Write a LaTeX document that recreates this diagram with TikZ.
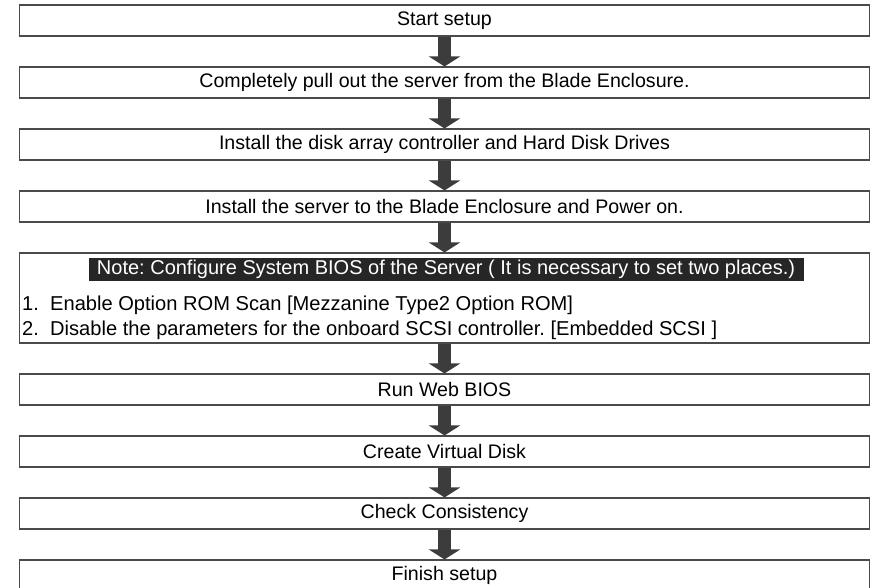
\documentclass[tikz,border=0pt]{standalone}
\usepackage{fontspec}
\setmainfont{Liberation Sans}
\usetikzlibrary{arrows.meta}
\frenchspacing
\definecolor{arrowgray}{HTML}{3C3C3C}
\definecolor{boxline}{HTML}{4A4A4A}
\tikzset{
  stepbox/.style={draw=boxline, line width=1.1pt, minimum width=850pt, minimum height=31pt,
    inner sep=0pt, font=\fontsize{19.6}{23}\selectfont\frenchspacing, text=black},
  bigarrow/.style={draw=arrowgray, line width=13pt,
    -{Triangle[width=31pt,length=10pt]}, shorten <=0.6pt},
  itemtext/.style={anchor=base west, inner sep=0pt, font=\fontsize{20.1}{23}\selectfont\frenchspacing},
}
\begin{document}
\begin{tikzpicture}[x=1pt,y=-1pt]
\useasboundingbox (0,0) rectangle (872,587);
\clip (0,0) rectangle (872,587);
\node[stepbox] (s1) at (444.5,20.5) {Start setup};
\node[stepbox] (s2) at (444.5,82.5) {Completely pull out the server from the Blade Enclosure.};
\node[stepbox] (s3) at (444.5,144.5) {Install the disk array controller and Hard Disk Drives};
\node[stepbox] (s4) at (444.5,206.5) {Install the server to the Blade Enclosure and Power on.};
\node[stepbox, minimum height=90pt] (note) at (444.5,298) {};
\node[fill=black!85, text=white, minimum width=715pt, minimum height=23pt, inner sep=0pt,
  font=\fontsize{20}{23}\selectfont\frenchspacing] (hdr) at (446,269.5)
  {Note: Configure System BIOS of the Server ( It is necessary to set two places.)};
\node[itemtext] (n1) at (22,310) {1.};
\node[itemtext] (t1) at (50,310) {Enable Option ROM Scan [Mezzanine Type2 Option ROM]};
\node[itemtext] (n2) at (22,335) {2.};
\node[itemtext] (t2) at (50,335) {Disable the parameters for the onboard SCSI controller. [Embedded SCSI ]};
\node[stepbox] (s5) at (444.5,389.5) {Run Web BIOS};
\node[stepbox] (s6) at (444.5,451.5) {Create Virtual Disk};
\node[stepbox] (s7) at (444.5,513.5) {Check Consistency};
\node[stepbox] (s8) at (444.5,575.5) {Finish setup};
\draw[bigarrow] (s1.south) -- (s2.north);
\draw[bigarrow] (s2.south) -- (s3.north);
\draw[bigarrow] (s3.south) -- (s4.north);
\draw[bigarrow] (s4.south) -- (note.north);
\draw[bigarrow] (note.south) -- (s5.north);
\draw[bigarrow] (s5.south) -- (s6.north);
\draw[bigarrow] (s6.south) -- (s7.north);
\draw[bigarrow] (s7.south) -- (s8.north);
\end{tikzpicture}
\end{document}
